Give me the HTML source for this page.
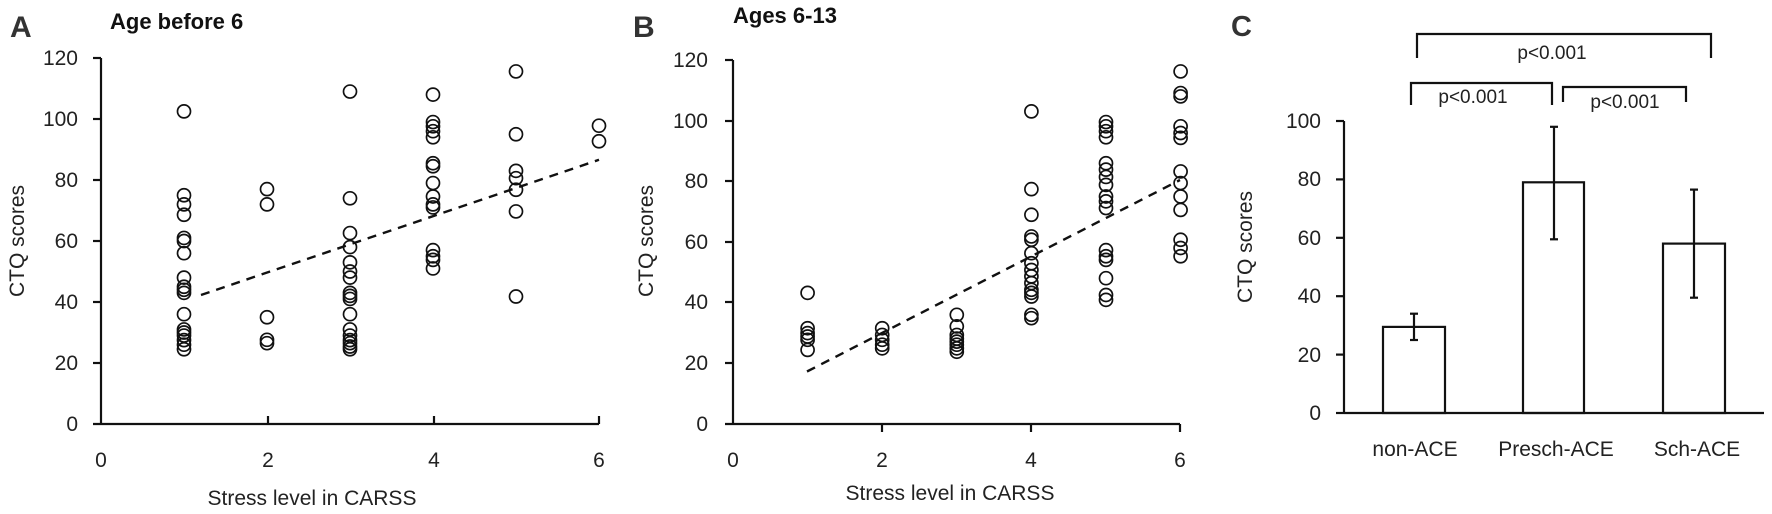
<!DOCTYPE html>
<html><head><meta charset="utf-8"><style>
html,body{margin:0;padding:0;background:#fff}
svg{display:block}
text{font-family:"Liberation Sans",sans-serif;fill:#222}
</style></head><body>
<svg id="s" width="1772" height="514" viewBox="0 0 1772 514" xmlns="http://www.w3.org/2000/svg">
<g stroke="#111" stroke-width="2.2" fill="none">
<!-- Panel A axes -->
<line x1="101" y1="58" x2="101" y2="424"/>
<line x1="93" y1="424" x2="599" y2="424"/>
<line x1="93" y1="58" x2="101" y2="58"/><line x1="93" y1="119" x2="101" y2="119"/><line x1="93" y1="180" x2="101" y2="180"/><line x1="93" y1="241" x2="101" y2="241"/><line x1="93" y1="302" x2="101" y2="302"/><line x1="93" y1="363" x2="101" y2="363"/>
<line x1="268" y1="416" x2="268" y2="424"/><line x1="434" y1="416" x2="434" y2="424"/><line x1="599" y1="416" x2="599" y2="424"/>
<!-- Panel B axes -->
<line x1="733" y1="60" x2="733" y2="424"/>
<line x1="725" y1="424" x2="1180" y2="424"/>
<line x1="725" y1="60" x2="733" y2="60"/><line x1="725" y1="121" x2="733" y2="121"/><line x1="725" y1="181" x2="733" y2="181"/><line x1="725" y1="242" x2="733" y2="242"/><line x1="725" y1="302" x2="733" y2="302"/><line x1="725" y1="363" x2="733" y2="363"/>
<line x1="882" y1="424" x2="882" y2="432"/><line x1="1031" y1="424" x2="1031" y2="432"/><line x1="1180" y1="424" x2="1180" y2="432"/>
<!-- Panel C axes -->
<line x1="1344" y1="121" x2="1344" y2="413"/>
<line x1="1344" y1="413" x2="1764" y2="413"/>
<line x1="1336" y1="121" x2="1344" y2="121"/><line x1="1336" y1="179.4" x2="1344" y2="179.4"/><line x1="1336" y1="237.8" x2="1344" y2="237.8"/><line x1="1336" y1="296.2" x2="1344" y2="296.2"/><line x1="1336" y1="354.6" x2="1344" y2="354.6"/><line x1="1336" y1="413" x2="1344" y2="413"/>
<!-- bars -->
<rect x="1383" y="326.9" width="62" height="86.1"/>
<rect x="1523" y="182.3" width="61" height="230.7"/>
<rect x="1663" y="243.6" width="62" height="169.4"/>
<!-- error bars -->
<line x1="1414" y1="313.7" x2="1414" y2="340"/><line x1="1410" y1="313.7" x2="1418" y2="313.7"/><line x1="1410" y1="340" x2="1418" y2="340"/>
<line x1="1554" y1="126.8" x2="1554" y2="239.3"/><line x1="1550" y1="126.8" x2="1558" y2="126.8"/><line x1="1550" y1="239.3" x2="1558" y2="239.3"/>
<line x1="1694" y1="189.6" x2="1694" y2="297.7"/><line x1="1690" y1="189.6" x2="1698" y2="189.6"/><line x1="1690" y1="297.7" x2="1698" y2="297.7"/>
<!-- brackets -->
<polyline points="1417,58 1417,34 1711,34 1711,58"/>
<polyline points="1411,105 1411,83 1552,83 1552,105"/>
<polyline points="1563,102 1563,87 1686,87 1686,102"/>
<!-- trend lines -->
<line x1="201" y1="295" x2="599" y2="159.8" stroke-dasharray="9,7" stroke-width="2.4"/>
<line x1="807" y1="371.5" x2="1180" y2="180" stroke-dasharray="9,7" stroke-width="2.4"/>
</g>
<g id="pts" stroke="#111" stroke-width="1.7" fill="none"></g>
<!-- labels A -->
<text x="10" y="37" font-size="30" font-weight="bold" style="fill:#333">A</text>
<text x="110" y="29" font-size="22" font-weight="bold" style="fill:#111">Age before 6</text>
<g font-size="21" text-anchor="end">
<text x="78" y="65">120</text><text x="78" y="126">100</text><text x="78" y="187">80</text><text x="78" y="248">60</text><text x="78" y="309">40</text><text x="78" y="370">20</text><text x="78" y="431">0</text>
</g>
<g font-size="21" text-anchor="middle">
<text x="101" y="467">0</text><text x="268" y="467">2</text><text x="434" y="467">4</text><text x="599" y="467">6</text>
<text x="312" y="505">Stress level in CARSS</text>
<text transform="translate(24,241) rotate(-90)">CTQ scores</text>
</g>
<!-- labels B -->
<text x="633" y="37" font-size="30" font-weight="bold" style="fill:#333">B</text>
<text x="733" y="23" font-size="22" font-weight="bold" style="fill:#111">Ages 6-13</text>
<g font-size="21" text-anchor="end">
<text x="708" y="67">120</text><text x="708" y="128">100</text><text x="708" y="188">80</text><text x="708" y="249">60</text><text x="708" y="309">40</text><text x="708" y="370">20</text><text x="708" y="431">0</text>
</g>
<g font-size="21" text-anchor="middle">
<text x="733" y="467">0</text><text x="882" y="467">2</text><text x="1031" y="467">4</text><text x="1180" y="467">6</text>
<text x="950" y="500">Stress level in CARSS</text>
<text transform="translate(653,241) rotate(-90)">CTQ scores</text>
</g>
<!-- labels C -->
<text x="1231" y="36" font-size="29" font-weight="bold" style="fill:#333">C</text>
<g font-size="21" text-anchor="end">
<text x="1321" y="128">100</text><text x="1321" y="186">80</text><text x="1321" y="245">60</text><text x="1321" y="303">40</text><text x="1321" y="362">20</text><text x="1321" y="420">0</text>
</g>
<g font-size="21" text-anchor="middle">
<text transform="translate(1252,247) rotate(-90)">CTQ scores</text>
<text x="1415" y="456">non-ACE</text><text x="1556" y="456">Presch-ACE</text><text x="1697" y="456">Sch-ACE</text>
</g>
<g font-size="19" text-anchor="middle">
<text x="1552" y="59">p&lt;0.001</text>
<text x="1473" y="103">p&lt;0.001</text>
<text x="1625" y="108">p&lt;0.001</text>
</g>
</svg>
<script>
var A={1:[102.5,75,72,68.6,61,60,56,48,45,44,43,36,31,30,29,27.5,26,24.5],2:[77,72,35,27.6,26.5],3:[109,74,62.6,58,53,50,48,43,42,41,36,31,29,27.5,26.5,25.4,24.5],4:[108,99,97.6,96,94,85.5,84.5,79,74.6,72,71,57,55,53.8,51],5:[115.6,95,83,80.6,76.8,69.7,41.8],6:[97.8,92.7]};
var B={1:[43,31.4,29.8,28.7,27.6,24.3],2:[31.4,29.2,27.6,26,24.8],3:[35.8,32,29.2,28,27,26,24.8,23.7],4:[102.5,77,68.6,61.5,60.4,56,52.7,50.5,48.4,46.2,44,43,41.8,35.8,34.7],5:[99,97.6,96,94,85.5,83.4,81,78.4,74.6,73,70.8,57,55,53.8,47.8,42.3,40.7],6:[115.6,108.5,107.4,97.6,95.4,93.8,82.8,79,74.6,70.2,60.4,57.7,55]};
var g=document.getElementById('pts'),h='';
function add(D,x0,dx){for(var k in D){D[k].forEach(function(v){h+='<circle cx="'+(x0+k*dx)+'" cy="'+(424-v*3.05)+'" r="6.5"/>';});}}
add(A,101,83);add(B,733,74.6);
g.innerHTML=h;
</script>
</body></html>
